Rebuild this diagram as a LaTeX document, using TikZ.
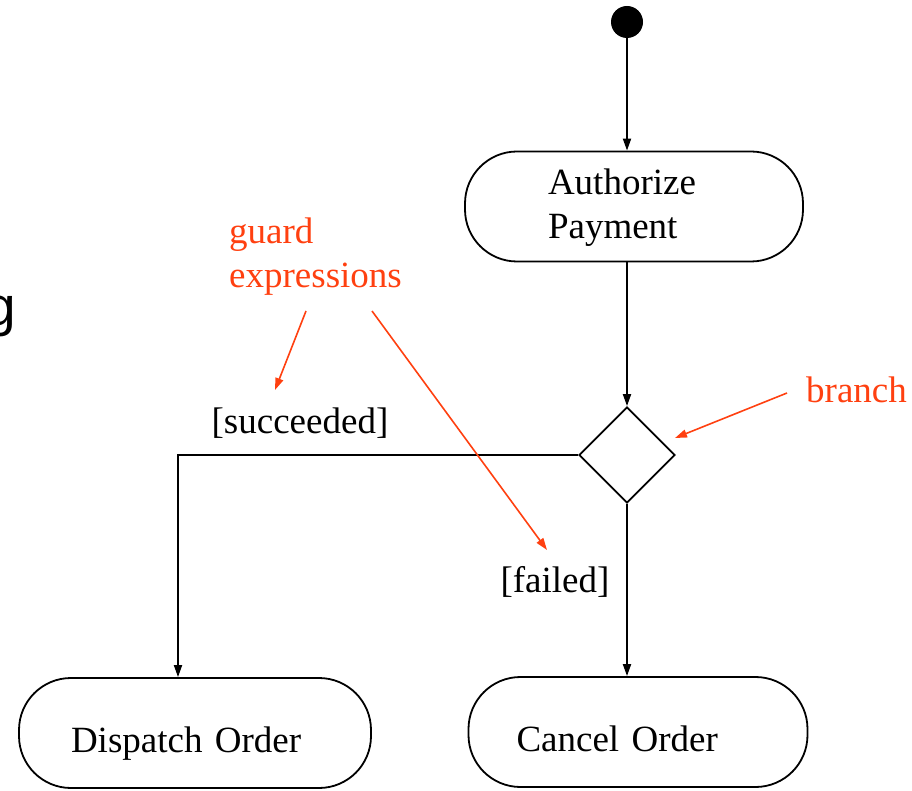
\documentclass[tikz,border=0pt]{standalone}
\usepackage{fontspec}
\setmainfont{Liberation Serif}
\newfontfamily\slidesans{Liberation Sans}
\usepackage{tikz}
\usetikzlibrary{arrows.meta,shapes.geometric}
\definecolor{notered}{HTML}{FF4010}
\newcommand{\diagfont}{\fontsize{37}{44}\selectfont}
\tikzset{
  actbox/.style={
    rectangle, draw, line width=1.8pt, rounded corners=52pt,
    minimum height=110pt, text width=#1, align=left,
    inner ysep=0pt, text height=38pt, text depth=0pt, font=\diagfont
  },
  actbox/.default=6cm,
  initdot/.style={circle, fill=black, minimum size=32pt, inner sep=0pt},
  branchbox/.style={diamond, draw, line width=1.8pt, aspect=1,
    minimum width=96pt, minimum height=96pt, inner sep=0pt},
  guardlabel/.style={font=\diagfont, inner sep=0pt},
  notetext/.style={font=\diagfont, text=notered, inner sep=0pt, align=left},
  flow/.style={-{Triangle[length=12pt,width=8pt]}, line width=1.8pt},
  notearrow/.style={-{Triangle[length=12pt,width=8pt]}, line width=1.6pt, notered},
}

\begin{document}
\begin{tikzpicture}[x=1pt, y=-1pt]
    \useasboundingbox (0,0) rectangle (912,791);
    % stray letter left over at the slide edge
    \node[font=\slidesans\fontsize{55}{60}\selectfont, anchor=base west, inner sep=0pt] (edgeg) at (-15,326) {g};

    % activity nodes
    \node[initdot] (start) at (627,22) {};
    \node[actbox=172pt, inner xsep=83pt, text height=33pt, text depth=56pt] (auth) at (634,206.5) {Authorize\\Payment};
    \node[branchbox] (branch) at (627,455) {};
    \node[actbox=248pt, inner xsep=52pt] (dispatch) at (195,733) {Dispatch Order};
    \node[actbox=243pt, inner xsep=48pt] (cancel) at (638,732) {Cancel Order};

    % guards
    \node[guardlabel] (succ) at (300,423) {[succeeded]};
    \node[guardlabel] (fail) at (555,582) {[failed]};

    % flow
    \draw[flow] (start) -- (start |- auth.north);
    \draw[flow] (branch |- auth.south) -- (branch.north);
    \draw[flow] (branch.west) -| ([xshift=-17pt]dispatch.north);
    \draw[flow] (branch.south) -- (branch.south |- cancel.north);

    % annotations
    \node[notetext, anchor=base west] (guardnote) at (229,288) {guard\\expressions};
    \node[notetext, anchor=base west] (branchnote) at (806,402) {branch};
    \coordinate (gfrom1) at (306,311);
    \coordinate (gfrom2) at (372,311);
    \coordinate (gto1) at (275,390);
    \coordinate (gto2) at (547,550);
    \coordinate (bfrom) at (787,393);
    \coordinate (bto) at (675,438);
    \draw[notearrow] (gfrom1) -- (gto1);
    \draw[notearrow] (gfrom2) -- (gto2);
    \draw[notearrow] (bfrom) -- (bto);
\end{tikzpicture}
\end{document}
